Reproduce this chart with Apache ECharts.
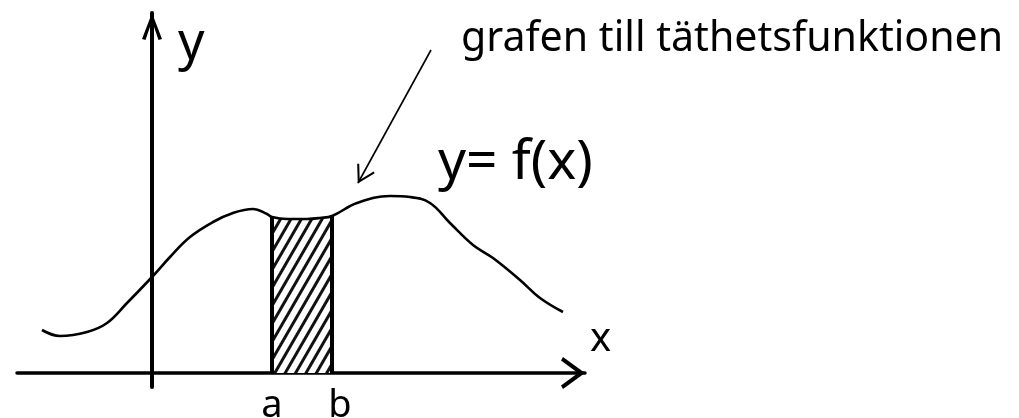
<!DOCTYPE html>
<html>
<head>
<meta charset="utf-8">
<script src="https://cdn.jsdelivr.net/npm/echarts@6/dist/echarts.min.js"></script>
<style>
  html, body { margin: 0; padding: 0; background: #fff; }
  #chart { width: 1019px; height: 418px; }
</style>
</head>
<body>
<div id="chart"></div>
<script>
  var curveX = [-110, -92, -65, -45, -25, 1, 18, 38, 61, 81, 101, 115, 120, 135, 155, 168, 180, 205, 238, 258, 278, 298, 321, 341, 368, 388, 411];
  var curveY = [43, 37, 41, 50, 70, 97, 116, 136, 151, 160, 164, 159, 156, 154, 154, 155, 157, 170, 177, 176, 170, 150, 128, 115, 93, 75, 61];
  // interval [a, b]
  var boundNames = ['a', 'b'];
  var boundX = [120, 180];
  // annotation pointer (from text to curve)
  var pointerFrom = [279, 323];
  var pointerTo = [206, 190];
  var noteText = 'grafen till täthetsfunktionen';
  var curveText = 'y= f(x)';

  var curve = curveX.map(function (x, i) { return [x, curveY[i]]; });
  var hatch = curve.filter(function (p) { return p[0] >= boundX[0] && p[0] <= boundX[1]; });
  function fAt(x) {
    for (var i = 0; i < curve.length; i++) if (curve[i][0] === x) return curve[i][1];
    return 0;
  }
  var bounds = boundX.map(function (x, i) {
    // the "b" sits a little right of its line in the sketch
    var pad = i === 1 ? [0, 0, 0, 16] : 0;
    return [{ coord: [x, 0], name: boundNames[i], label: { padding: pad } }, { coord: [x, fAt(x)] }];
  });

  // open hand-drawn style arrow heads (apex in the middle of the box)
  var thinHead = 'path://M10,-17 M0,17 L10,0 L20,17 L18.2,18 L10,4 L1.8,18 Z';
  var xHead = 'path://M16,-24 M0,22 L16,0 L32,22 L28.5,24 L16,7 L3.5,24 Z';
  var yHead = 'path://M10,-27 M0,26 L10,0 L20,26 L16.5,27 L10,8 L3.5,27 Z';

  // fit the note to the width it takes in the sketch
  var ctx = document.createElement('canvas').getContext('2d');
  var noteFont = '"Liberation Sans Narrow", "Noto Sans", sans-serif';
  ctx.font = '40px ' + noteFont;
  var noteSize = Math.round(40 * 542 / ctx.measureText(noteText).width * 10) / 10;

  var chart = echarts.init(document.getElementById('chart'));
  chart.setOption({
    backgroundColor: '#fff',
    animation: false,
    grid: { left: 17, right: 434, top: 13, bottom: 31 },
    xAxis: {
      type: 'value', min: -135, max: 433,
      axisLine: {
        onZero: true,
        symbol: ['none', xHead], symbolSize: [32, 48],
        lineStyle: { color: '#000', width: 3.5 }
      },
      axisTick: { show: false }, axisLabel: { show: false }, splitLine: { show: false }
    },
    yAxis: {
      type: 'value', min: -14, max: 360,
      axisLine: {
        show: true, onZero: true,
        symbol: ['none', yHead], symbolSize: [20, 54],
        lineStyle: { color: '#000', width: 4 }
      },
      axisTick: { show: false }, axisLabel: { show: false }, splitLine: { show: false }
    },
    series: [
      {
        type: 'line', data: hatch, showSymbol: false, smooth: 0.4, silent: true,
        lineStyle: { width: 0 },
        itemStyle: {
          color: '#000',
          decal: {
            symbol: 'rect', symbolSize: 1, color: '#111',
            dashArrayX: [1, 0], dashArrayY: [2.5, 5.5], rotation: -Math.PI / 3
          }
        },
        areaStyle: { color: '#fff', opacity: 1 },
        markLine: {
          silent: true, symbol: 'none', animation: false,
          lineStyle: { color: '#000', width: 4, type: 'solid' },
          label: {
            position: 'start', formatter: '{b}', distance: 14,
            color: '#000', fontSize: 38, fontFamily: 'Noto Sans'
          },
          data: bounds
        }
      },
      {
        type: 'line', data: curve, showSymbol: false, smooth: 0.4, silent: true,
        lineStyle: { color: '#000', width: 2.6 },
        markLine: {
          silent: true, animation: false,
          symbol: ['none', thinHead], symbolSize: [20, 35],
          lineStyle: { color: '#000', width: 1.6, type: 'solid' },
          label: { show: false },
          data: [[{ coord: pointerFrom }, { coord: pointerTo }]]
        }
      }
    ],
    graphic: [
      { type: 'text', left: 461, top: 19, style: { text: noteText, font: noteSize + 'px ' + noteFont, fill: '#000' } },
      { type: 'text', left: 438, top: 136, style: { text: curveText, font: '55px "Noto Sans", sans-serif', fill: '#000' } },
      { type: 'text', left: 178, top: 18, style: { text: 'y', font: '52px "Noto Sans", sans-serif', fill: '#000' } },
      { type: 'text', left: 590, top: 320, style: { text: 'x', font: '40px "Noto Sans", sans-serif', fill: '#000' } }
    ]
  });
</script>
</body>
</html>
